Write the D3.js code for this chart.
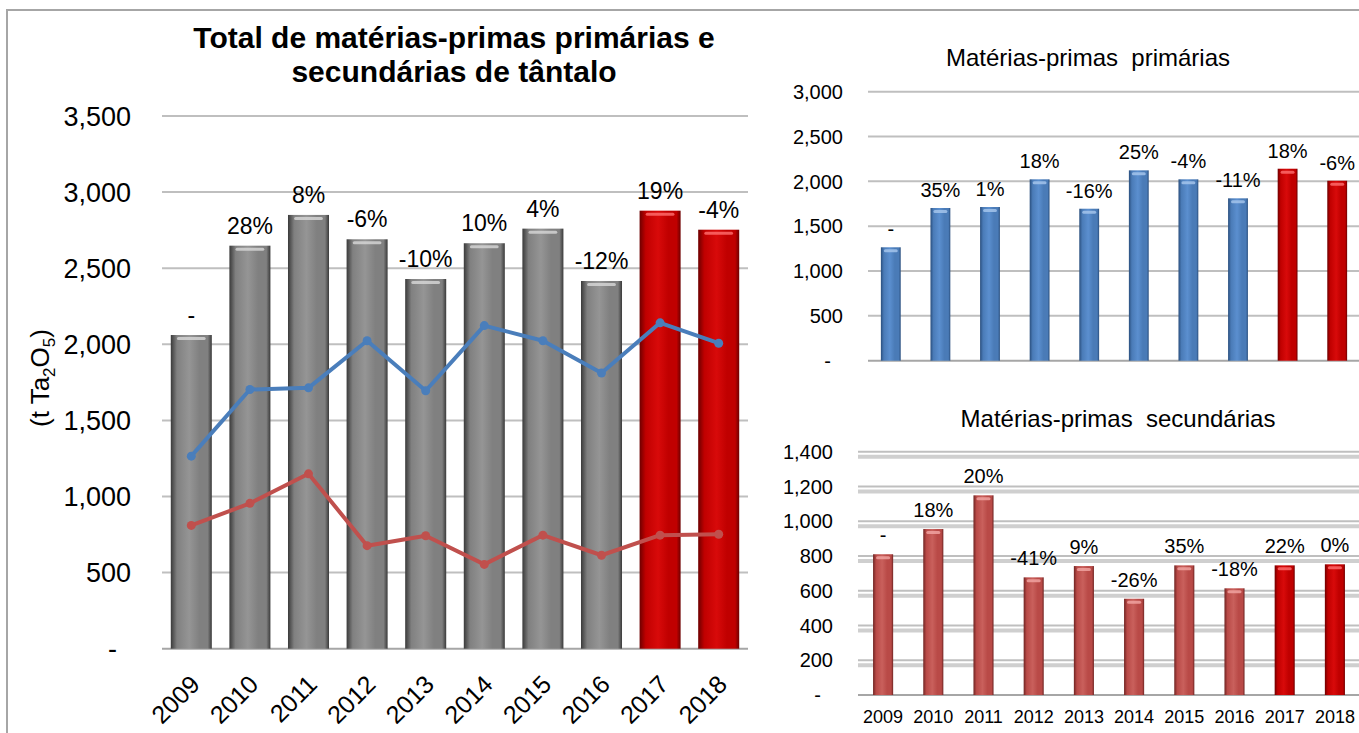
<!DOCTYPE html>
<html lang="pt">
  <head>
    <meta charset="utf-8">
    <title>Tântalo</title>
    <style>
      body { margin: 0; background: #fff; }
      text { font-family: "Liberation Sans", Arial, sans-serif; fill: #000; white-space: pre; }
    </style>
  </head>
  <body>
    <svg class="chart"></svg>
    <script src="https://d3js.org/d3.v7.min.js"></script>
    <script>
    const years = [2009, 2010, 2011, 2012, 2013, 2014, 2015, 2016, 2017, 2018];
    const total = [2061, 2648, 2850, 2690, 2429, 2664, 2760, 2416, 2878, 2753];
    const primary = [1265, 1703, 1714, 2023, 1695, 2123, 2023, 1811, 2141, 2007];
    const secondary = [810, 955, 1149, 677, 742, 554, 746, 614, 746, 752];
    const totalPct = ["-", "28%", "8%", "-6%", "-10%", "10%", "4%", "-12%", "19%", "-4%"];
    const primaryPct = ["-", "35%", "1%", "18%", "-16%", "25%", "-4%", "-11%", "18%", "-6%"];
    const secondaryPct = ["-", "18%", "20%", "-41%", "9%", "-26%", "35%", "-18%", "22%", "0%"];
    const totalTicks = [0, 500, 1000, 1500, 2000, 2500, 3000, 3500];
    const primaryTicks = [0, 500, 1000, 1500, 2000, 2500, 3000];
    const secondaryTicks = [0, 200, 400, 600, 800, 1000, 1200, 1400];
    const highlightYears = [2017, 2018];

    const svg = d3.select(".chart").attr("width", 1359).attr("height", 733);
    svg.append("rect").attr("width", 1359).attr("height", 733).attr("fill", "#fff");
    // outer frame (only top and left edges visible)
    svg.append("rect").attr("x", 7).attr("y", 10).attr("width", 1400).attr("height", 800)
      .attr("fill", "none").attr("stroke", "#a6a6a6").attr("stroke-width", 2);

    const defs = svg.append("defs");
    function cylinder(id, edge, mid, light) {
      const g = defs.append("linearGradient").attr("id", id).attr("x1", "0").attr("x2", "1").attr("y1", "0").attr("y2", "0");
      [[0, edge], [0.15, mid], [0.45, light], [0.7, mid], [0.9, mid], [1, edge]].forEach(s =>
        g.append("stop").attr("offset", s[0]).attr("stop-color", s[1]));
    }
    cylinder("gray", "#3a3a3a", "#808080", "#959595");
    cylinder("red", "#6e0000", "#c00000", "#d80a0a");
    cylinder("blue", "#2a4f7e", "#4a7bb7", "#5b8fcf");
    cylinder("rose", "#6f2422", "#b94a47", "#c9605c");

    const fmt = d => d === 0 ? "-" : d3.format(",")(d);

    function yAxis(scale, ticks, x0, x1, labelX, size, dashDx, double) {
      const g = svg.append("g");
      ticks.forEach(t => {
        if (t > 0) {
          g.append("line").attr("x1", x0).attr("x2", x1).attr("y1", scale(t)).attr("y2", scale(t))
            .attr("stroke", "#bfbfbf").attr("stroke-width", 2);
          if (double) {
            g.append("line").attr("x1", x0).attr("x2", x1).attr("y1", scale(t) + 5).attr("y2", scale(t) + 5)
              .attr("stroke", "#cfcfcf").attr("stroke-width", 4);
          }
        }
        g.append("text").attr("x", labelX - (t === 0 ? dashDx : 0)).attr("y", scale(t))
          .attr("dy", "0.36em").attr("text-anchor", "end").attr("font-size", size).text(fmt(t));
      });
      g.append("line").attr("x1", x0).attr("x2", x1).attr("y1", scale(0)).attr("y2", scale(0))
        .attr("stroke", "#a6a6a6").attr("stroke-width", 2);
    }

    function bars(x, y, values, normalFill, hiColor) {
      const g = svg.append("g");
      const idx = d3.range(years.length);
      g.selectAll("rect.bar").data(idx).enter().append("rect")
        .attr("class", "bar")
        .attr("x", i => x(years[i]))
        .attr("y", i => y(values[i]))
        .attr("width", x.bandwidth())
        .attr("height", i => y(0) - y(values[i]))
        .attr("fill", i => highlightYears.includes(years[i]) ? "url(#red)" : "url(#" + normalFill + ")");
      g.selectAll("rect.hl").data(idx).enter().append("rect")
        .attr("class", "hl")
        .attr("x", i => x(years[i]) + x.bandwidth() * 0.15)
        .attr("y", i => y(values[i]) + 2)
        .attr("width", x.bandwidth() * 0.7)
        .attr("height", 3)
        .attr("rx", 1.5)
        .attr("fill", i => highlightYears.includes(years[i]) ? "#ff7070" : hiColor)
        .attr("opacity", 0.8);
    }

    function pctLabels(x, y, values, labels, size, gap) {
      svg.append("g").selectAll("text").data(d3.range(years.length)).enter().append("text")
        .attr("x", i => x(years[i]) + x.bandwidth() / 2)
        .attr("y", i => y(values[i]) - gap)
        .attr("text-anchor", "middle").attr("font-size", size)
        .text(i => labels[i]);
    }

    // ---------- left chart: total ----------
    const x1 = d3.scaleBand().domain(years).range([162, 748]).paddingInner(0.3).paddingOuter(0.15);
    const y1 = d3.scaleLinear().domain([0, 3500]).range([648.7, 116]);

    svg.append("text").attr("x", 454).attr("y", 48).attr("text-anchor", "middle")
      .attr("font-size", 30).attr("font-weight", "bold").text("Total de matérias-primas primárias e");
    svg.append("text").attr("x", 454).attr("y", 82).attr("text-anchor", "middle")
      .attr("font-size", 30).attr("font-weight", "bold").text("secundárias de tântalo");

    yAxis(y1, totalTicks, 162, 748, 131, 27, 14, false);
    bars(x1, y1, total, "gray", "#d8d8d8");
    pctLabels(x1, y1, total, totalPct, 23, 12);

    const cx1 = i => x1(years[i]) + x1.bandwidth() / 2;
    const idx = d3.range(years.length);
    [[primary, "#4a7ebb"], [secondary, "#c0504d"]].forEach(([vals, col]) => {
      const line = d3.line().x(i => cx1(i)).y(i => y1(vals[i]));
      svg.append("path").datum(idx).attr("d", line).attr("fill", "none")
        .attr("stroke", col).attr("stroke-width", 4).attr("stroke-linejoin", "round");
      svg.append("g").selectAll("circle").data(idx).enter().append("circle")
        .attr("cx", i => cx1(i)).attr("cy", i => y1(vals[i])).attr("r", 4.5).attr("fill", col);
    });

    svg.append("g").selectAll("text").data(idx).enter().append("text")
      .attr("transform", i => "translate(" + (cx1(i) + 10) + ",686) rotate(-45)")
      .attr("text-anchor", "end").attr("font-size", 25).text(i => years[i]);

    const yt = svg.append("text").attr("transform", "translate(49,378) rotate(-90)")
      .attr("text-anchor", "middle").attr("font-size", 26);
    yt.append("tspan").text("(t Ta");
    yt.append("tspan").attr("font-size", 17).attr("dy", 6).text("2");
    yt.append("tspan").attr("dy", -6).text("O");
    yt.append("tspan").attr("font-size", 17).attr("dy", 6).text("5");
    yt.append("tspan").attr("dy", -6).text(")");

    // ---------- top right: primary ----------
    const x2 = d3.scaleBand().domain(years).range([866, 1362]).paddingInner(0.6).paddingOuter(0.3);
    const y2 = d3.scaleLinear().domain([0, 3000]).range([360.7, 91.7]);
    svg.append("text").attr("x", 1088).attr("y", 66).attr("text-anchor", "middle")
      .attr("font-size", 24).text("Matérias-primas  primárias");
    yAxis(y2, primaryTicks, 868, 1360, 843, 20, 12, false);
    bars(x2, y2, primary, "blue", "#a9c8ee");
    pctLabels(x2, y2, primary, primaryPct, 20, 11);

    // ---------- bottom right: secondary ----------
    const x3 = d3.scaleBand().domain(years).range([858, 1360]).paddingInner(0.6).paddingOuter(0.3);
    const y3 = d3.scaleLinear().domain([0, 1400]).range([695, 451.7]);
    svg.append("text").attr("x", 1118).attr("y", 427).attr("text-anchor", "middle")
      .attr("font-size", 24).text("Matérias-primas  secundárias");
    yAxis(y3, secondaryTicks, 858, 1360, 833, 20, 12, true);
    bars(x3, y3, secondary, "rose", "#f2a7a5");
    pctLabels(x3, y3, secondary, secondaryPct, 20, 12);
    svg.append("g").selectAll("text").data(idx).enter().append("text")
      .attr("x", i => x3(years[i]) + x3.bandwidth() / 2).attr("y", 723)
      .attr("text-anchor", "middle").attr("font-size", 18).text(i => years[i]);
    </script>
  </body>
</html>
